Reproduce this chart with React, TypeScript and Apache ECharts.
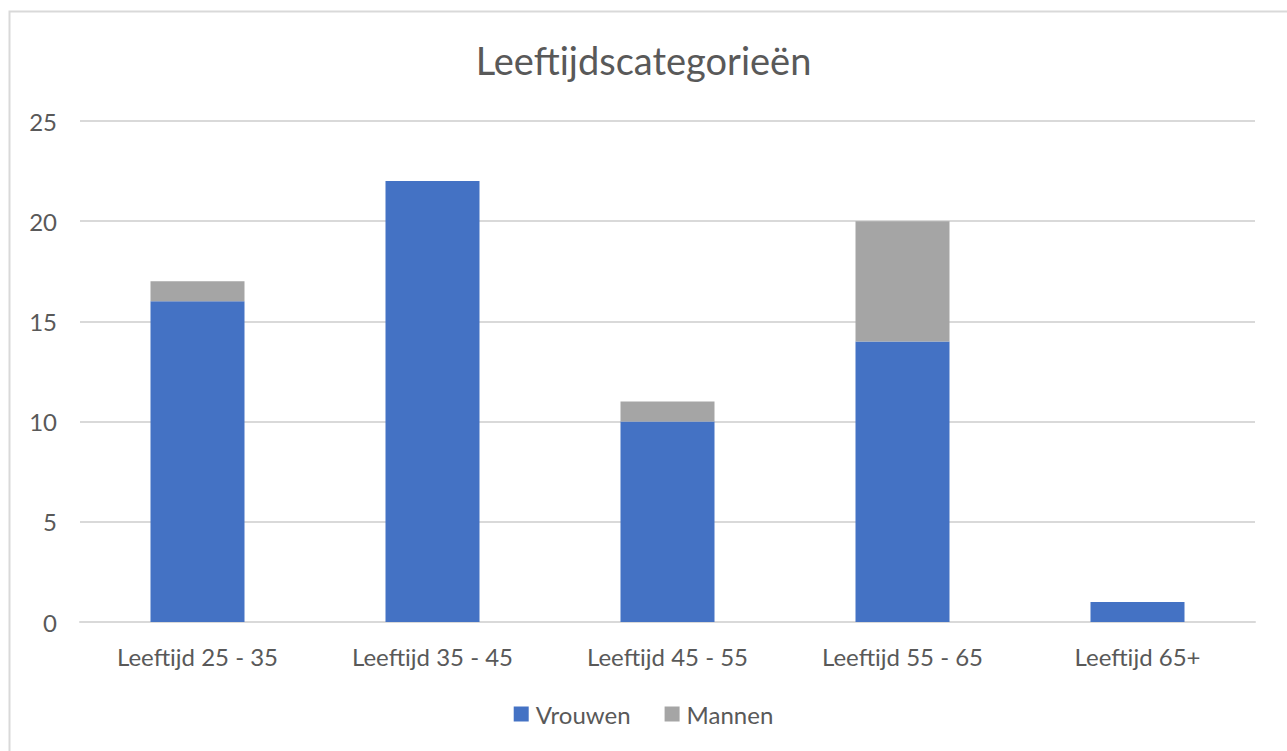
import React, { useEffect, useRef } from "react";
import * as echarts from "echarts";

const categories = ["Leeftijd 25 - 35", "Leeftijd 35 - 45", "Leeftijd 45 - 55", "Leeftijd 55 - 65", "Leeftijd 65+"];
const vrouwen = [16, 22, 10, 14, 1];
const mannen = [1, 0, 1, 6, 0];
const titleText = "Leeftijdscategorieën";

export default function App() {
  const ref = useRef<HTMLDivElement>(null);
  useEffect(() => {
    const chart = echarts.init(ref.current!, null, { renderer: "svg" });
    const font = "Lato, 'Open Sans', sans-serif";
    chart.setOption({
      animation: false,
      backgroundColor: "#ffffff",
      title: {
        text: titleText,
        left: "center",
        top: 36,
        textStyle: { fontFamily: font, fontSize: 38, fontWeight: "normal", color: "#595959" },
      },
      graphic: [
        {
          type: "rect",
          shape: { x: 9.5, y: 11.5, width: 1300, height: 800 },
          style: { fill: "none", stroke: "#D9D9D9", lineWidth: 2 },
          silent: true,
        },
      ],
      legend: {
        bottom: 20,
        left: "center",
        itemWidth: 15,
        itemHeight: 15,
        itemGap: 34,
        icon: "rect",
        textStyle: { fontFamily: font, fontSize: 24, color: "#595959", padding: [0, 0, 0, 2] },
        data: ["Vrouwen", "Mannen"],
      },
      grid: { left: 80, right: 32, top: 121, bottom: 129, containLabel: false },
      xAxis: {
        type: "category",
        data: categories,
        axisTick: { show: false },
        axisLine: { show: true, lineStyle: { color: "#D9D9D9", width: 2 } },
        axisLabel: { fontFamily: font, fontSize: 24, color: "#595959", margin: 22 },
      },
      yAxis: {
        type: "value",
        min: 0,
        max: 25,
        interval: 5,
        axisLine: { show: false },
        axisTick: { show: false },
        splitLine: { lineStyle: { color: "#D9D9D9", width: 2 } },
        axisLabel: { fontFamily: font, fontSize: 24, color: "#595959", margin: 23 },
      },
      series: [
        {
          name: "Vrouwen",
          type: "bar",
          stack: "total",
          data: vrouwen,
          barWidth: "40%",
          itemStyle: { color: "#4472C4" },
        },
        {
          name: "Mannen",
          type: "bar",
          stack: "total",
          data: mannen,
          barWidth: "40%",
          itemStyle: { color: "#A5A5A5" },
        },
      ],
    });
    return () => chart.dispose();
  }, []);
  return (
    <div
      ref={ref}
      style={{ position: "fixed", left: 0, top: 0, width: 1287, height: 751 }}
    />
  );
}
